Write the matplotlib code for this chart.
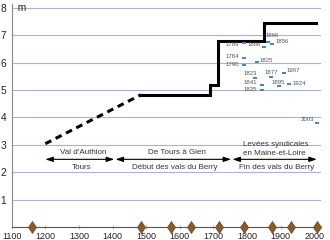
import matplotlib.pyplot as plt
from matplotlib.path import Path

plt.rcParams['font.family'] = ['Liberation Sans', 'DejaVu Sans']

# levee crest height (m), dashed part = uncertain early levees
early_x = [1200, 1485]
early_y = [3.04, 4.83]
crest_x = [1485, 1690, 1715, 1852, 2005]
crest_y = [4.83, 5.19, 6.78, 7.43, 7.43]

# flood marks
flood_years = ['1789', '1866', '1866', '1856', '1784', '1825', '1790', '1823',
               '1877', '1907', '1841', '1895', '1924', '1835', '2003']
flood_x = [1790, 1850, 1862, 1876, 1790, 1829, 1790, 1824,
           1872, 1910, 1844, 1896, 1925, 1844, 2008]
flood_y = [6.70, 6.58, 6.74, 6.68, 6.18, 6.01, 5.90, 5.44,
           5.49, 5.61, 5.17, 5.14, 5.22, 4.99, 3.78]

# dated events on the time axis
event_years = [1160, 1485, 1575, 1635, 1716, 1792, 1874, 1931, 2008]

# periods: (start, end, text above, text below)
periods = [(1200, 1405, "Val d'Authion", 'Tours'),
           (1409, 1753, 'De Tours à Gien', 'Début des vals du Berry'),
           (1757, 2008, 'Levées syndicales\nen Maine-et-Loire', 'Fin des vals du Berry')]

# label placement for each flood mark: (ha, dx px, dy px)
label_pos = [('right', -4.4, -1), ('right', -3, 2.4), ('left', -2.5, 7), ('left', 3.5, 2.3),
             ('right', -4.4, 1), ('left', 3.2, 1.6), ('right', -4.4, 1.3), ('right', 2.3, 4),
             ('center', -0.3, 4), ('left', 2.7, 2.6), ('right', -4.5, 2.6), ('center', -1, 4),
             ('left', 3.5, 0.3), ('right', -4.5, 1), ('right', -2.8, 4)]

fig = plt.figure(figsize=(3.3, 2.4), dpi=100)
ax = fig.add_axes([0.0355, 0.0542, 0.9367, 0.929])
ax.set_xlim(1100, 2020)
ax.set_ylim(0, 8.14)

for v in range(1, 9):
    ax.axhline(v, color='#a9b3d6', lw=0.8, zorder=1)

ax.plot(early_x, early_y, color='black', lw=2.2, ls=(0, (2.2, 1.6)), zorder=3)
ax.plot(crest_x, crest_y, color='black', lw=2.2, drawstyle='steps-post',
        solid_joinstyle='miter', zorder=3)

bar = Path([(-1, -0.4), (1, -0.4), (1, 0.4), (-1, 0.4), (-1, -0.4)])
ax.scatter(flood_x, flood_y, marker=bar, s=9, color='#4a84c8', lw=0, zorder=4)
for lab, x, y, (ha, dx, dy) in zip(flood_years, flood_x, flood_y, label_pos):
    ax.annotate(lab, (x, y), xytext=(dx * 0.72, dy * 0.72), textcoords='offset points',
                ha=ha, va='center', fontsize=4.3, color='#555555', zorder=5)

ax.plot(event_years, [0] * len(event_years), ls='none', marker='d', ms=6.1,
        color='#8b5a2b', mec='#6a421c', mew=0.5, clip_on=False, zorder=6)

for x0, x1, top, bottom in periods:
    ax.annotate('', xy=(x1, 2.47), xytext=(x0, 2.47),
                arrowprops=dict(arrowstyle='<|-|>,head_length=0.45,head_width=0.15',
                                color='black', lw=0.8, shrinkA=0, shrinkB=0))
    if '\n' in top:
        l1, l2 = top.split('\n')
        ax.text(x0 + 30, 3.02, l1, ha='left', va='center', fontsize=5.8, color='#333333')
        ax.text(x0 + 30, 2.69, l2, ha='left', va='center', fontsize=5.8, color='#333333')
    else:
        ax.text((x0 + x1) / 2 + 10, 2.71, top, ha='center', va='center',
                fontsize=5.8, color='#333333')
    ax.text((x0 + x1) / 2 + 5, 2.16, bottom, ha='center', va='center',
            fontsize=5.8, color='#333333')

ax.text(1100, 8, '  m', ha='left', va='center', fontsize=7.3, color='#222222')

ax.set_xticks(range(1100, 2001, 100))
ax.set_yticks(range(1, 9))
ax.tick_params(axis='x', direction='inout', length=3, color='#bbbbbb',
               labelsize=6.5, labelcolor='#222222', pad=2)
ax.tick_params(axis='y', length=0, labelsize=7.3, labelcolor='#222222', pad=4)
for s in ['top', 'right']:
    ax.spines[s].set_visible(False)
ax.spines['left'].set_color('#888888')
ax.spines['bottom'].set_color('#555555')
ax.spines['left'].set_linewidth(0.8)
ax.spines['bottom'].set_linewidth(0.8)

fig.savefig('out.png', dpi=100)
